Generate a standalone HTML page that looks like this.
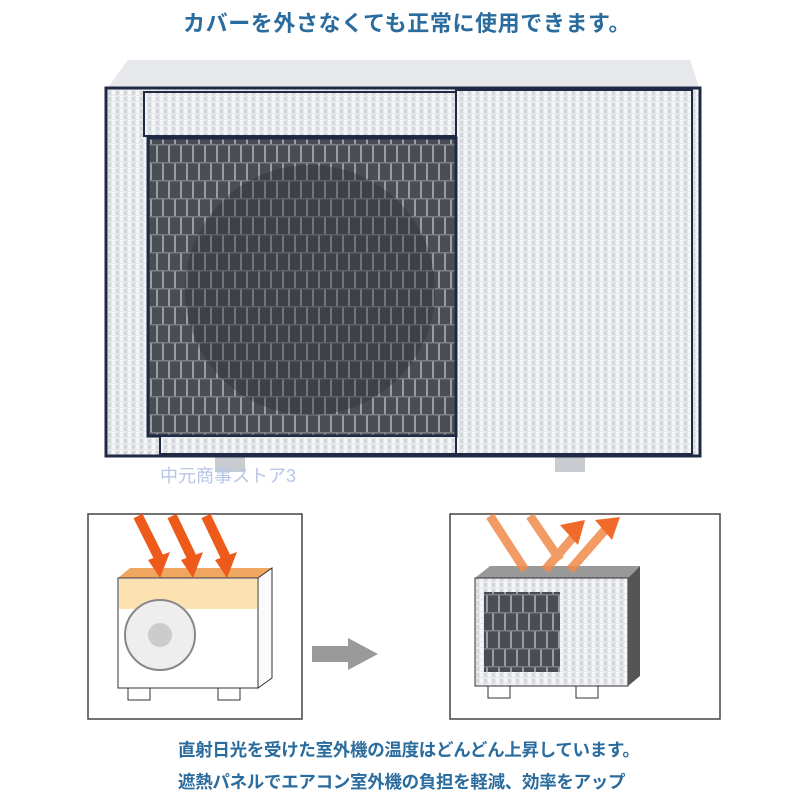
<!DOCTYPE html>
<html><head><meta charset="utf-8"><style>
*{margin:0;padding:0}
body{width:800px;height:800px;background:#fff;position:relative;overflow:hidden;font-family:"Liberation Sans","Noto Sans CJK JP",sans-serif}
.t{position:absolute;color:#2b6c9e;font-weight:bold;white-space:nowrap}
.a{position:absolute}
</style></head><body>
<div class="t" style="left:183px;top:6px;font-size:22px;letter-spacing:0.6px">カバーを外さなくても正常に使用できます。</div>
<svg class="a" style="left:0;top:0" width="800" height="800">
<defs>
<pattern id="foil" width="8" height="6" patternUnits="userSpaceOnUse"><rect width="8" height="6" fill="#e6e8ec"/><rect x="0" y="0" width="3" height="5" fill="#f5f6f8"/><rect x="4" y="1" width="3" height="4" fill="#d4d7dc"/></pattern>
<pattern id="grill" width="12" height="36" patternUnits="userSpaceOnUse"><rect width="12" height="36" fill="#4a4d53"/><rect x="0" y="0" width="2" height="18" fill="#9a9da3"/><rect x="6" y="18" width="2" height="18" fill="#9a9da3"/><rect x="0" y="0" width="12" height="1.5" fill="#7a7d82"/><rect x="0" y="18" width="12" height="1.5" fill="#7a7d82"/></pattern>
</defs>
<polygon points="128,60 690,60 700,90 106,90" fill="#e6e8ec"/>
<rect x="215" y="450" width="30" height="22" fill="#c8cbd0"/>
<rect x="555" y="450" width="30" height="22" fill="#c8cbd0"/>
<rect x="106" y="88" width="594" height="368" fill="url(#foil)" stroke="#1e2a44" stroke-width="3"/>
<rect x="456" y="90" width="236" height="364" fill="url(#foil)" stroke="#1e2a44" stroke-width="2"/>
<rect x="144" y="92" width="312" height="44" fill="url(#foil)" stroke="#1e2a44" stroke-width="2"/>
<rect x="148" y="138" width="308" height="298" fill="url(#grill)" stroke="#1e2a44" stroke-width="3"/>
<circle cx="310" cy="290" r="125" fill="#2a2c30" opacity="0.35"/>
<rect x="160" y="436" width="296" height="18" fill="url(#foil)" stroke="#1e2a44" stroke-width="2"/>
<rect x="88" y="514" width="214" height="205" fill="#fff" stroke="#444" stroke-width="1.5"/>
<polygon points="118,578 260,578 272,568 130,568" fill="#f0a560"/>
<rect x="118" y="578" width="140" height="110" fill="#fff" stroke="#333"/>
<rect x="119" y="579" width="138" height="30" fill="#fbe2b0"/>
<polygon points="258,578 272,568 272,678 258,688" fill="#fafafa" stroke="#333"/>
<circle cx="160" cy="635" r="35" fill="#eee" stroke="#888" stroke-width="2"/>
<circle cx="160" cy="635" r="12" fill="#ccc"/>
<rect x="128" y="688" width="22" height="12" fill="#fff" stroke="#333"/>
<rect x="218" y="688" width="22" height="12" fill="#fff" stroke="#333"/>
<g stroke="#ee5a1a" stroke-width="10">
<line x1="138" y1="516" x2="160" y2="560"/><line x1="172" y1="516" x2="193" y2="560"/><line x1="206" y1="516" x2="227" y2="560"/>
</g>
<g fill="#ee5a1a"><polygon points="148,560 170,552 160,578"/><polygon points="181,560 203,552 193,578"/><polygon points="215,560 237,552 227,578"/></g>
<rect x="312" y="646" width="38" height="16" fill="#9a9a9a"/><polygon points="348,638 378,654 348,670" fill="#9a9a9a"/>
<rect x="450" y="514" width="270" height="205" fill="#fff" stroke="#444" stroke-width="1.5"/>
<polygon points="475,578 628,578 640,566 490,566" fill="#999"/>
<rect x="475" y="578" width="153" height="108" fill="url(#foil)" stroke="#333"/>
<rect x="484" y="592" width="76" height="80" fill="url(#grill)"/>
<polygon points="628,578 640,566 640,676 628,686" fill="#555"/>
<rect x="488" y="686" width="22" height="12" fill="#fff" stroke="#333"/>
<rect x="576" y="686" width="22" height="12" fill="#fff" stroke="#333"/>
<g stroke="#f08a4a" stroke-width="9" opacity="0.85">
<line x1="490" y1="516" x2="525" y2="570"/><line x1="530" y1="516" x2="560" y2="560"/><line x1="545" y1="570" x2="575" y2="535"/><line x1="570" y1="570" x2="605" y2="530"/>
</g>
<g fill="#f06a2a"><polygon points="560,525 585,520 578,545"/><polygon points="595,520 620,517 612,540"/></g>
</svg>
<div class="t" style="left:178px;top:737px;font-size:17.5px;letter-spacing:-0.3px">直射日光を受けた室外機の温度はどんどん上昇しています。</div>
<div class="t" style="left:178px;top:769px;font-size:17.5px;letter-spacing:-0.3px">遮熱パネルでエアコン室外機の負担を軽減、効率をアップ</div>
<div class="t" style="left:160px;top:462px;font-size:18px;color:#b8c6e6;font-weight:normal">中元商事ストア3</div>
</body></html>
